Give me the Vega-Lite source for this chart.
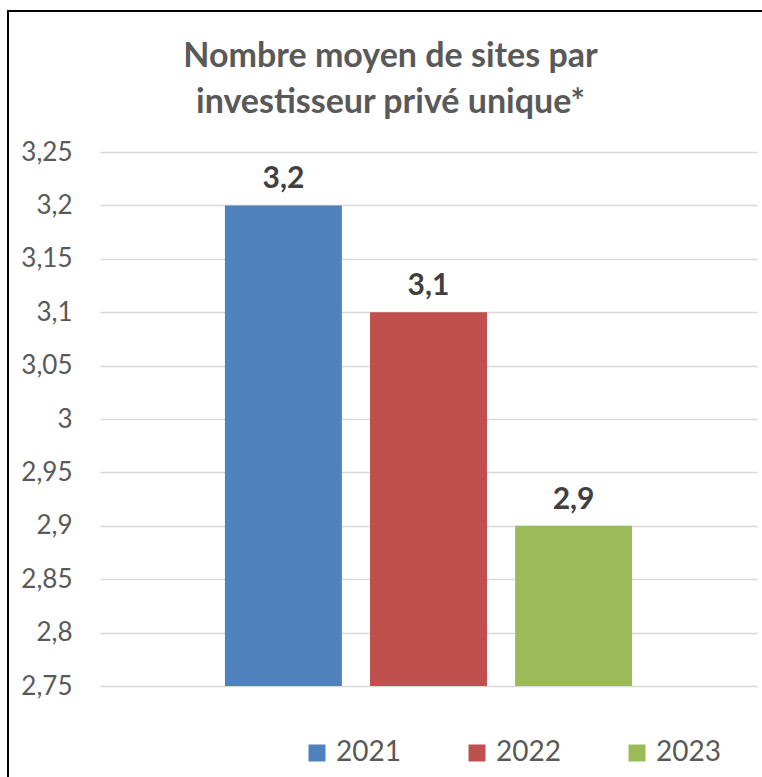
{
  "$schema": "https://vega.github.io/schema/vega-lite/v6.json",
  "autosize": {"type": "none"},
  "padding": {"left": 8, "top": 11, "right": 0, "bottom": 0},
  "width": 757,
  "height": 770,
  "background": "white",
  "config": {
    "view": {"stroke": "#000000", "strokeWidth": 2},
    "font": "Lato",
    "locale": {"number": {"decimal": ",", "thousands": " ", "grouping": [3], "currency": ["", " €"]}}
  },
  "title": {
    "text": ["Nombre moyen de sites par", "investisseur privé unique*"],
    "fontSize": 34,
    "fontWeight": "bold",
    "color": "#595959",
    "lineHeight": 46,
    "anchor": "middle",
    "frame": "group",
    "offset": -109,
    "dx": 4
  },
  "data": {
    "values": [
      {"annee": "2021", "valeur": 3.2},
      {"annee": "2022", "valeur": 3.1},
      {"annee": "2023", "valeur": 2.9}
    ]
  },
  "encoding": {
    "x": {
      "field": "annee",
      "type": "nominal",
      "scale": {"range": [92, 749], "paddingInner": 0.194, "paddingOuter": 0.861},
      "axis": null
    },
    "y": {
      "field": "valeur",
      "type": "quantitative",
      "scale": {"domain": [2.75, 3.25], "range": [675, 141], "zero": false, "nice": false},
      "axis": {
        "title": null,
        "values": [2.75, 2.8, 2.85, 2.9, 2.95, 3, 3.05, 3.1, 3.15, 3.2, 3.25],
        "format": ".2~f",
        "domain": false,
        "ticks": false,
        "offset": -68,
        "labelPadding": 4,
        "labelFontSize": 26,
        "labelColor": "#595959",
        "labelFont": "Lato",
        "grid": true,
        "gridColor": "#D9D9D9",
        "gridWidth": 1.5
      }
    }
  },
  "layer": [
    {
      "mark": {"type": "bar"},
      "encoding": {
        "y2": {"datum": 2.75},
        "color": {
          "field": "annee",
          "type": "nominal",
          "scale": {"range": ["#4F81BD", "#C0504D", "#9BBB59"]},
          "legend": {
            "title": null,
            "orient": "none",
            "direction": "horizontal",
            "legendX": 295,
            "legendY": 728,
            "symbolType": "square",
            "symbolSize": 289,
            "symbolStrokeWidth": 0,
            "labelFontSize": 28,
            "labelColor": "#595959",
            "labelOffset": 5,
            "columnPadding": 62
          }
        }
      }
    },
    {
      "mark": {"type": "text", "dy": -26, "fontSize": 30, "fontWeight": "bold", "color": "#404040"},
      "encoding": {
        "text": {"field": "valeur", "type": "quantitative", "format": ".1f"}
      }
    }
  ]
}
